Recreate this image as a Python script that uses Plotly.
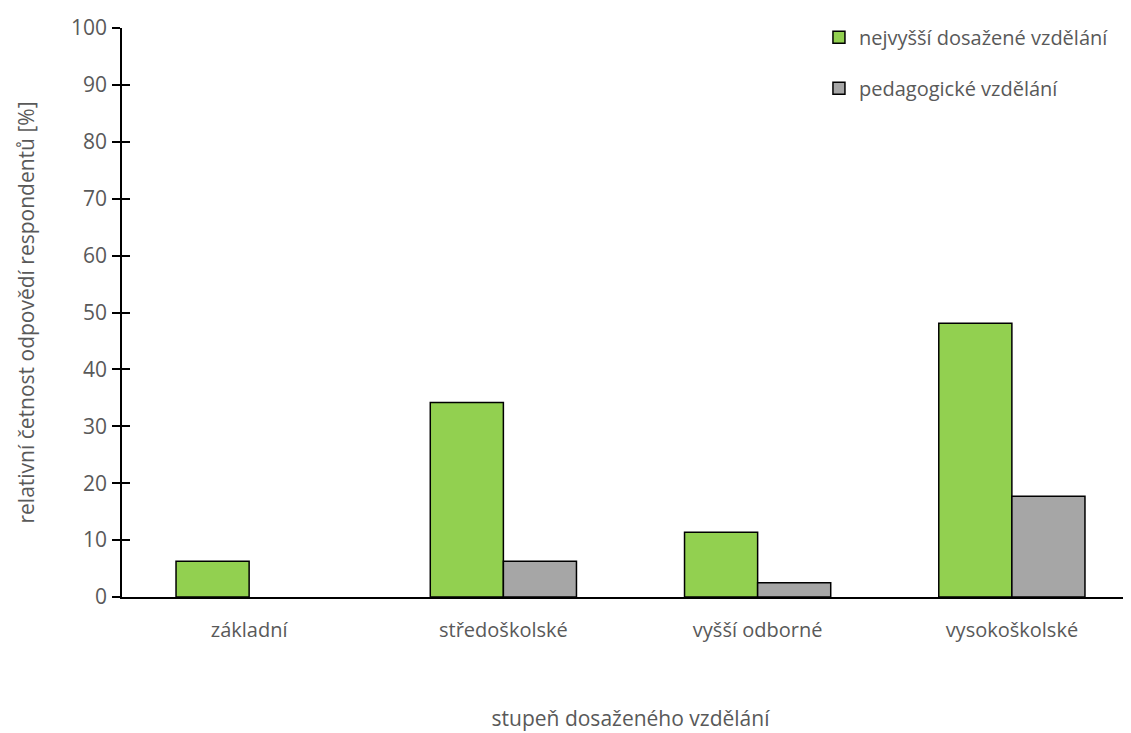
import plotly.graph_objects as go

categories = ["základní", "středoškolské", "vyšší odborné", "vysokoškolské"]
series_names = ["nejvyšší dosažené vzdělání", "pedagogické vzdělání"]
highest = [6.3, 34.2, 11.4, 48.1]
pedagogic = [0, 6.3, 2.5, 17.7]
y_ticks = [0, 10, 20, 30, 40, 50, 60, 70, 80, 90, 100]

FONT = "Open Sans"
TXT = "#595959"


def drawn(vals):
    # a zero-height bar is not drawn at all (no outline) in the reference
    return [v if v != 0 else None for v in vals]


fig = go.Figure()
fig.add_trace(go.Bar(x=categories, y=drawn(highest), name=series_names[0],
                     marker=dict(color="#92D050", line=dict(color="black", width=1.5)),
                     legendgroup="a"))
fig.add_trace(go.Bar(x=categories, y=drawn(pedagogic), name=series_names[1],
                     marker=dict(color="#A6A6A6", line=dict(color="black", width=1.5)),
                     legendgroup="b"))
# invisible helper trace so the second y axis (inner tick marks) is drawn
fig.add_trace(go.Scatter(x=categories, y=highest, yaxis="y2", mode="markers",
                         marker=dict(opacity=0), showlegend=False, hoverinfo="skip"))

fig.update_layout(
    width=1131, height=733,
    margin=dict(l=114, r=0, t=20, b=144),
    plot_bgcolor="white", paper_bgcolor="white",
    barmode="group", bargap=0.425, bargroupgap=0,
    font=dict(family=FONT, size=20, color=TXT),
    xaxis=dict(showline=True, linecolor="black", linewidth=1.5, ticks="",
               tickfont=dict(size=20, color=TXT),
               title=dict(text="stupeň dosaženého vzdělání", font=dict(size=21, color=TXT), standoff=70),
               ticklabelstandoff=14),
    yaxis=dict(range=[0, 100], tickvals=y_ticks, showgrid=False, zeroline=False,
               showline=True, linecolor="black", linewidth=1.5,
               ticks="outside", ticklen=8, tickwidth=1.5, tickcolor="black",
               tickfont=dict(size=21, color=TXT), ticklabelstandoff=1,
               title=dict(text="relativní četnost odpovědí respondentů [%]",
                          font=dict(size=21, color=TXT), standoff=31)),
    yaxis2=dict(range=[0, 100], tickvals=y_ticks, overlaying="y", side="left", anchor="x",
                showgrid=False, zeroline=False, showticklabels=False,
                ticks="inside", ticklen=8, tickwidth=1.5, tickcolor="black", showline=False),
    legend=dict(x=0.6853, y=1.018, xanchor="left", yanchor="top", traceorder="grouped",
                tracegroupgap=22, font=dict(size=20, color=TXT), bgcolor="rgba(0,0,0,0)"),
)

fig.write_html("out.html")
